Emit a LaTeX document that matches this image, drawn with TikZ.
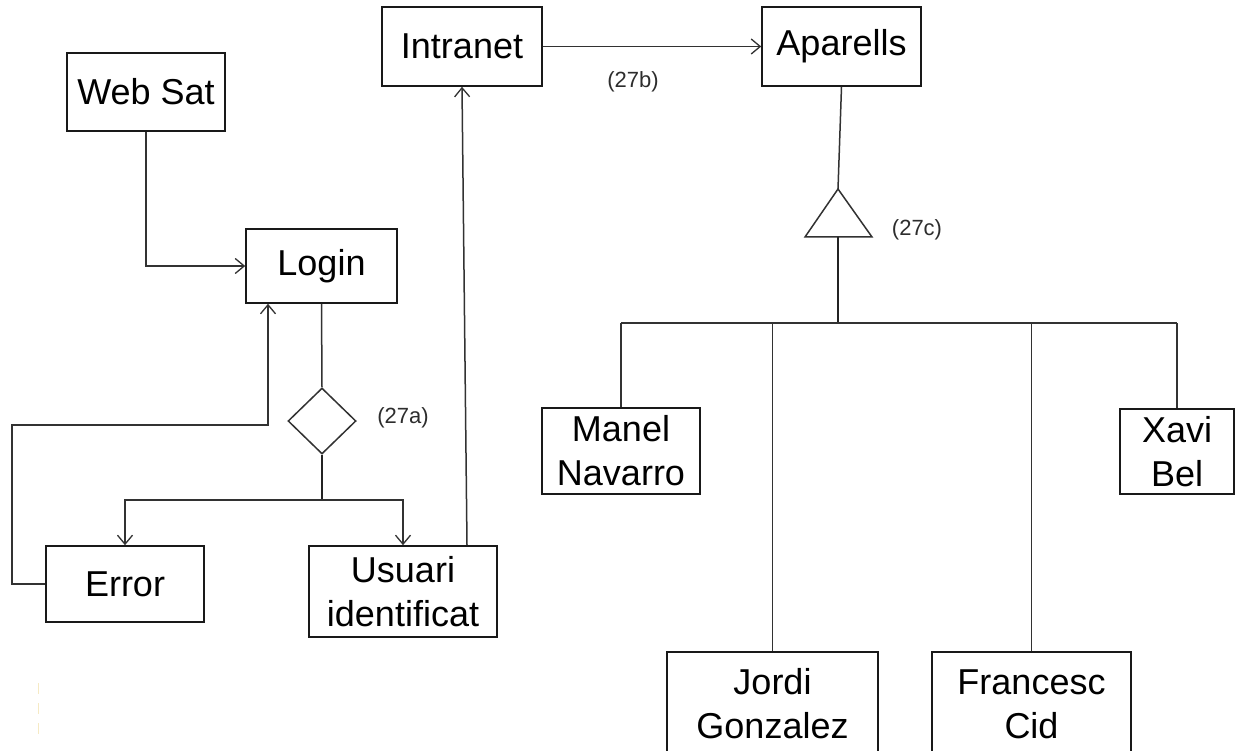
\documentclass[tikz,border=0pt]{standalone}
\usepackage{fontspec}
\setmainfont{Liberation Sans}
\usetikzlibrary{arrows.meta,shapes.geometric,calc}
\definecolor{edge}{RGB}{50,50,50}
\definecolor{lbl}{RGB}{45,45,45}
\definecolor{faint}{RGB}{246,234,196}
\tikzset{
  box/.style={draw=black!90, line width=1.6pt, rectangle, inner sep=0pt,
    align=center, font=\fontsize{36}{44}\selectfont},
  wire/.style={draw=edge, line width=1.5pt},
  thickwire/.style={draw=edge!70!black, line width=2.8pt},
  arr/.style={wire, -{Straight Barb[length=9pt,width=15pt,line width=1.3pt]}},
  tag/.style={text=lbl, font=\fontsize{22}{26}\selectfont, inner sep=0pt},
  choice/.style={draw=edge, line width=1.5pt, diamond, inner sep=0pt,
    minimum width=68pt, minimum height=66pt},
}
\begin{document}
\begin{tikzpicture}[x=1pt,y=-1pt]
\useasboundingbox (0,0) rectangle (1239,751);
\clip (0,0) rectangle (1239,751);
\fill[white] (0,0) rectangle (1239,751);

% boxes
\node[box, minimum width=158pt, minimum height=78pt] (web) at (146,92) {Web Sat};
\node[box, minimum width=151pt, minimum height=74pt] (login) at (321.5,266) {Login};
\node[box, minimum width=158pt, minimum height=76pt] (error) at (125,584) {Error};
\node[box, minimum width=188pt, minimum height=91pt] (usuari) at (403,591.5) {Usuari\\identificat};
\node[box, minimum width=160pt, minimum height=79pt] (intranet) at (462,46.5) {Intranet};
\node[box, minimum width=159pt, minimum height=79pt] (aparells) at (841.5,46.5) {Aparells};
\node[box, minimum width=158pt, minimum height=86pt] (manel) at (621,451) {Manel\\Navarro};
\node[box, minimum width=114pt, minimum height=85pt] (xavi) at (1177,451.5) {Xavi\\Bel};
\node[box, minimum width=211pt, minimum height=104pt] (jordi) at (772.5,704) {Jordi\\Gonzalez};
\node[box, minimum width=199pt, minimum height=104pt] (francesc) at (1031.5,704) {Francesc\\Cid};

% decision diamond
\node[choice] (dia) at (322,421) {};
\node[tag] (ta) at (403,418) {(27a)};

% generalisation triangle
\coordinate (triA) at (838,189);
\coordinate (triB) at (838,237);
\draw[wire] (triA) -- (805,237) -- (872,237) -- cycle;
\node[tag] (tc) at (917,230) {(27c)};

\node[tag] (tb) at (633,82) {(27b)};

% login flow
\draw[arr] (web.south) |- (login.west);
\draw[wire] (login.south) -- (dia.north);
\coordinate (split) at (322,500);
\draw[thickwire] (dia.south) -- (split);
\draw[arr] (split) -| (error.north);
\draw[arr] (split) -| (usuari.north);
\coordinate (loopx) at (268,425);
\draw[arr] (error.west) -- ++(-33,0) |- (loopx) -- (loopx |- login.south);
\draw[arr] ($(usuari.north)+(64,0)$) -- (intranet.south);
\draw[arr] (intranet.east) -- (aparells.west);

% hierarchy
\draw[wire] (aparells.south) -- (triA);
\coordinate (bar) at (838,323);
\draw[thickwire] (triB) -- (bar);
\draw[wire] (manel.north |- bar) -- (xavi.north |- bar);
\draw[wire] (manel.north |- bar) -- (manel.north);
\draw[wire] (jordi.north |- bar) -- (jordi.north);
\draw[wire] (francesc.north |- bar) -- (francesc.north);
\draw[wire] (xavi.north |- bar) -- (xavi.north);

% faint mark at the lower left
\draw[faint, line width=1pt, dash pattern=on 11pt off 9pt] (38,683) -- (38,742);
\end{tikzpicture}
\end{document}
